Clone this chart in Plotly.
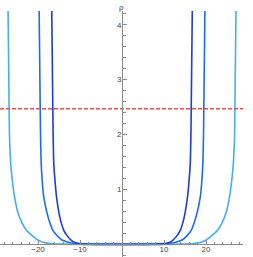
import plotly.graph_objects as go

# Curves (x = "y", value = rho)
dark_x = [-16.75, -16.55, -16.4, -16.25, -16.0, -15.6, -15.0, -14.5, -13.9, -13.0, -12.0, -11.0, -10.0, -8.0, -4.0, 0.0,
          4.0, 8.0, 10.0, 11.0, 12.0, 13.0, 13.9, 14.5, 15.0, 15.6, 16.0, 16.25, 16.4, 16.55, 16.75]
dark_rho = [4.4, 3.0, 2.0, 1.48, 1.2, 0.87, 0.57, 0.4, 0.26, 0.15, 0.07, 0.03, 0.015, 0.003, 0.0, 0.0,
            0.0, 0.003, 0.015, 0.03, 0.07, 0.15, 0.26, 0.4, 0.57, 0.87, 1.2, 1.48, 2.0, 3.0, 4.4]

mid_x = [-19.75, -19.55, -19.4, -19.25, -19.0, -18.65, -17.85, -17.2, -16.5, -15.5, -14.3, -13.0, -11.55, -10.0, -6.0, 0.0,
         6.0, 10.0, 11.55, 13.0, 14.3, 15.5, 16.5, 17.2, 17.85, 18.65, 19.0, 19.25, 19.4, 19.55, 19.75]
mid_rho = [4.4, 3.0, 2.0, 1.48, 1.15, 0.87, 0.57, 0.4, 0.26, 0.16, 0.08, 0.045, 0.02, 0.005, 0.0, 0.0,
           0.0, 0.005, 0.02, 0.045, 0.08, 0.16, 0.26, 0.4, 0.57, 0.87, 1.15, 1.48, 2.0, 3.0, 4.4]

light_x = [-27.15, -26.95, -26.8, -26.5, -26.1, -25.6, -24.75, -23.8, -22.8, -21.1, -20.05, -19.0, -17.5, -14.0, -8.0, 0.0,
           8.0, 14.0, 17.5, 19.0, 20.05, 21.1, 22.8, 23.8, 24.75, 25.6, 26.1, 26.5, 26.8, 26.95, 27.15]
light_rho = [4.4, 3.0, 2.0, 1.48, 1.15, 0.87, 0.57, 0.39, 0.26, 0.14, 0.08, 0.045, 0.02, 0.005, 0.0, 0.0,
             0.0, 0.005, 0.02, 0.045, 0.08, 0.14, 0.26, 0.39, 0.57, 0.87, 1.15, 1.48, 2.0, 3.0, 4.4]

ref_x = [-29.05, 28.9]
ref_rho = [2.47, 2.47]

x_ticks = [-20, -10, 10, 20]
x_tick_text = ["\u221220", "\u221210", "10", "20"]
y_ticks = [1, 2, 3, 4]
y_tick_text = ["1", "2", "3", "4"]

x_range = [-29.05, 28.8]
y_range = [-0.23, 4.25]

fig = go.Figure()
fig.add_trace(go.Scatter(x=light_x, y=light_rho, mode="lines", line=dict(color="#45AEF5", width=1.6, shape="spline", smoothing=0.6)))
fig.add_trace(go.Scatter(x=mid_x, y=mid_rho, mode="lines", line=dict(color="#1C6CF0", width=1.6, shape="spline", smoothing=0.6)))
fig.add_trace(go.Scatter(x=dark_x, y=dark_rho, mode="lines", line=dict(color="#1E3CD6", width=1.6, shape="spline", smoothing=0.6)))
fig.add_trace(go.Scatter(x=ref_x, y=ref_rho, mode="lines", line=dict(color="#F24A4A", width=1.6, dash="4px,2px"), cliponaxis=False))

xpos = (0 - y_range[0]) / (y_range[1] - y_range[0])
ypos = (0 - x_range[0]) / (x_range[1] - x_range[0])

axis_color = "#8a8a8a"
font = dict(family="Liberation Sans, Arial, sans-serif", size=8, color="#444444")

fig.update_layout(
    width=253, height=257,
    margin=dict(l=0, r=10, t=11, b=0, autoexpand=False),
    paper_bgcolor="white", plot_bgcolor="white",
    showlegend=False,
    font=font,
    xaxis=dict(range=x_range, anchor="free", position=xpos, showline=True, linecolor=axis_color, linewidth=1,
               automargin=False, ticklabelstandoff=-3,
               showgrid=False, zeroline=False, ticks="inside", ticklen=4, tickcolor=axis_color, tickwidth=1,
               tickvals=x_ticks, ticktext=x_tick_text, tickfont=font,
               minor=dict(ticks="inside", ticklen=2.5, tickcolor=axis_color, dtick=2, tick0=0, showgrid=False)),
    yaxis=dict(range=y_range, anchor="free", position=ypos, showline=True, linecolor=axis_color, linewidth=1,
               automargin=False, ticklabelstandoff=-1,
               showgrid=False, zeroline=False, ticks="inside", ticklen=4, tickcolor=axis_color, tickwidth=1,
               tickvals=y_ticks, ticktext=y_tick_text, tickfont=font,
               minor=dict(ticks="inside", ticklen=2.5, tickcolor=axis_color, dtick=0.2, tick0=0, showgrid=False)),
    annotations=[
        dict(x=29.3, y=0, xref="x", yref="y", text="y", showarrow=False, xanchor="left", yanchor="middle", font=font),
        dict(x=0, y=4.25, xref="x", yref="y", text="\u03c1", showarrow=False, xanchor="center", yanchor="bottom",
             font=dict(family=font["family"], size=8, color="#444444"), yshift=-3, xshift=-1),
    ],
)

fig.write_html("out.html", config={"displayModeBar": False, "staticPlot": True},
               post_script="document.body.style.margin='0';document.body.style.overflow='hidden';")
